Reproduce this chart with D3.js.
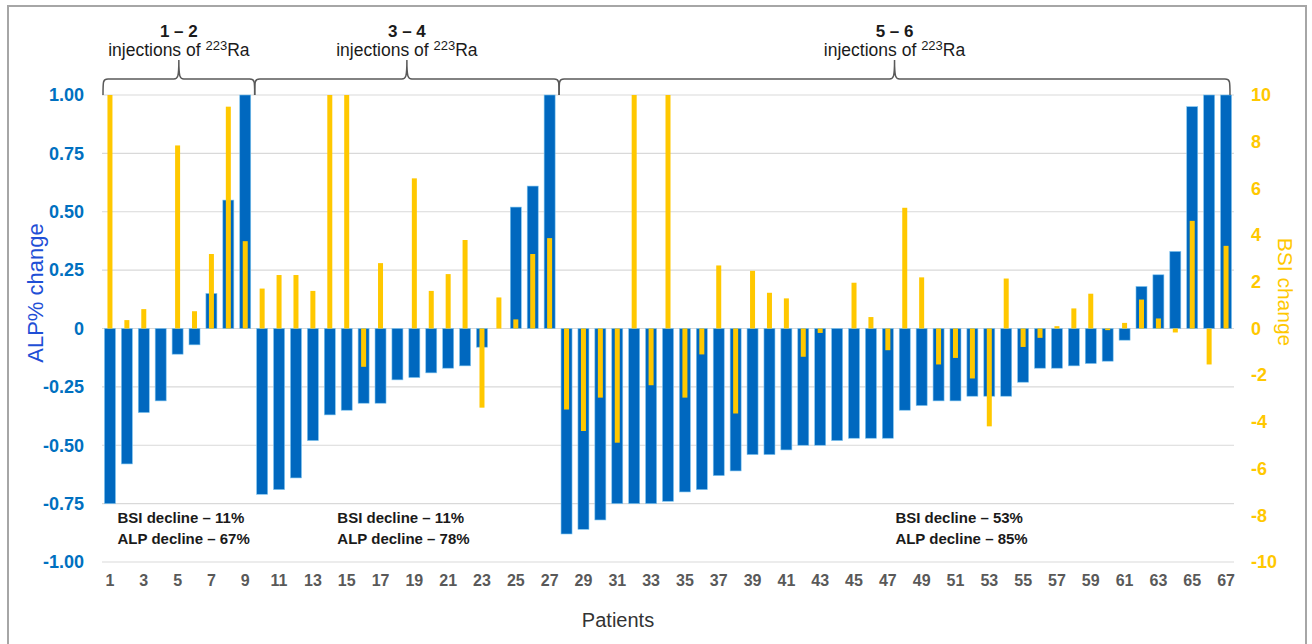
<!DOCTYPE html>
<html>
<head>
<meta charset="utf-8">
<script src="https://cdn.jsdelivr.net/npm/d3@7"></script>
<style>
  body { margin: 0; background: #fff; }
  svg { display: block; font-family: "Liberation Sans", Arial, sans-serif; }
</style>
</head>
<body>
<svg id="chart" width="1312" height="644"></svg>
<script>
// --- Data ---------------------------------------
const patients = d3.range(1, 68);

// ALP% change per patient (left axis)
const alpChange = [
  -0.75, -0.58, -0.36, -0.31, -0.11, -0.07, 0.15, 0.55, 1.00,
  -0.71, -0.69, -0.64, -0.48, -0.37, -0.35, -0.32, -0.32, -0.22, -0.21,
  -0.19, -0.17, -0.16, -0.08, 0, 0.52, 0.61, 1.00,
  -0.88, -0.86, -0.82, -0.75, -0.75, -0.75, -0.74, -0.70, -0.69, -0.63,
  -0.61, -0.54, -0.54, -0.52, -0.50, -0.50, -0.48, -0.47, -0.47, -0.47,
  -0.35, -0.33, -0.31, -0.31, -0.29, -0.29, -0.29, -0.23, -0.17, -0.17,
  -0.16, -0.15, -0.14, -0.05, 0.18, 0.23, 0.33, 0.95, 1.00, 1.00
];

// BSI change per patient (right axis)
const bsiChange = [
  10, 0.36, 0.83, 0, 7.84, 0.74, 3.19, 9.5, 3.74,
  1.71, 2.29, 2.29, 1.61, 10, 10, -1.64, 2.8, 0, 6.43,
  1.61, 2.33, 3.79, -3.39, 1.33, 0.39, 3.19, 3.87,
  -3.47, -4.39, -2.96, -4.89, 10, -2.43, 10, -2.96, -1.11, 2.7,
  -3.64, 2.47, 1.53, 1.29, -1.21, -0.19, 0, 1.96, 0.49, -0.93,
  5.17, 2.19, -1.54, -1.26, -2.14, -4.19, 2.14, -0.79, -0.4, 0.1,
  0.86, 1.49, -0.07, 0.24, 1.24, 0.43, -0.17, 4.61, -1.54, 3.54
];

const alpTicks = [1, 0.75, 0.5, 0.25, 0, -0.25, -0.5, -0.75, -1];
const alpTickLabels = ["1.00", "0.75", "0.50", "0.25", "0", "-0.25", "-0.50", "-0.75", "-1.00"];
const bsiTicks = [10, 8, 6, 4, 2, 0, -2, -4, -6, -8, -10];

// Injection groups: first and last patient of each bracket
const groupRanges = [[1, 9], [10, 27], [28, 67]];
const groupLabels = ["1 \u2013 2", "3 \u2013 4", "5 \u2013 6"];
const bsiDecline = ["BSI decline \u2013 11%", "BSI decline \u2013 11%", "BSI decline \u2013 53%"];
const alpDecline = ["ALP decline \u2013 67%", "ALP decline \u2013 78%", "ALP decline \u2013 85%"];
const declineAt = [1, 14, 47]; // patient the decline text starts near

// --- Setup ----------------------------------------
const svg = d3.select("#chart");
const blue = "#0068bf";
const yellow = "#ffc800";

const x = d3.scaleBand()
  .domain(patients)
  .range([101.5, 1234.5]);

const yAlp = d3.scaleLinear().domain([-1, 1]).range([562, 95]);
const yBsi = d3.scaleLinear().domain([-10, 10]).range([562, 95]);

// outer frame
svg.append("rect")
  .attr("x", 8).attr("y", 6)
  .attr("width", 1298).attr("height", 650)
  .attr("fill", "none")
  .attr("stroke", "#a6a6a6")
  .attr("stroke-width", 2);

// gridlines
svg.append("g")
  .selectAll("line")
  .data(alpTicks)
  .join("line")
  .attr("x1", 102).attr("x2", 1234)
  .attr("y1", d => yAlp(d)).attr("y2", d => yAlp(d))
  .attr("stroke", "#d9d9d9")
  .attr("stroke-width", 1.2);

// left axis labels
const leftAxis = svg.append("g")
  .attr("transform", "translate(84,0)")
  .call(d3.axisLeft(yAlp).tickValues(alpTicks)
    .tickFormat((d, i) => alpTickLabels[i]).tickSize(0).tickPadding(0));
leftAxis.select(".domain").remove();
leftAxis.selectAll("text")
  .attr("fill", "#0070c0")
  .style("font-size", "18px")
  .style("font-weight", "bold")
  .style("font-family", "Liberation Sans, Arial, sans-serif");

// right axis labels (plain hyphen for negatives, like the original)
const rightAxis = svg.append("g")
  .attr("transform", "translate(1251,0)")
  .call(d3.axisRight(yBsi).tickValues(bsiTicks)
    .tickFormat(d => String(d)).tickSize(0).tickPadding(0));
rightAxis.select(".domain").remove();
rightAxis.selectAll("text")
  .attr("fill", yellow)
  .style("font-size", "18px")
  .style("font-weight", "bold")
  .style("font-family", "Liberation Sans, Arial, sans-serif");

// bottom axis labels (odd patients)
const bottomAxis = svg.append("g")
  .attr("transform", "translate(0,574)")
  .call(d3.axisBottom(x).tickValues(patients.filter(p => p % 2 === 1))
    .tickSize(0).tickPadding(0));
bottomAxis.select(".domain").remove();
bottomAxis.selectAll("text")
  .attr("fill", "#595959")
  .attr("dy", "0.75em")
  .style("font-size", "16px")
  .style("font-weight", "bold")
  .style("font-family", "Liberation Sans, Arial, sans-serif");

// axis titles
svg.append("text")
  .attr("transform", "translate(43,293)rotate(-90)")
  .attr("text-anchor", "middle")
  .attr("fill", "#1f4fd6")
  .style("font-size", "22px")
  .text("ALP% change");

svg.append("text")
  .attr("transform", "translate(1278,292)rotate(90)")
  .attr("text-anchor", "middle")
  .attr("fill", yellow)
  .style("font-size", "21px")
  .text("BSI change");

svg.append("text")
  .attr("x", 618).attr("y", 627)
  .attr("text-anchor", "middle")
  .attr("fill", "#333")
  .style("font-size", "20px")
  .text("Patients");

// --- Bars ----------------------------------------
const blueW = 11;
const yellowW = 5;

svg.append("g")
  .selectAll("rect")
  .data(alpChange)
  .join("rect")
  .attr("x", (d, i) => x(patients[i]) + x.bandwidth() / 2 - blueW / 2)
  .attr("width", blueW)
  .attr("y", d => yAlp(Math.max(d, 0)))
  .attr("height", d => Math.abs(yAlp(d) - yAlp(0)))
  .attr("fill", blue)
  .attr("stroke", "#7cc4ef")
  .attr("stroke-width", 0.6);

svg.append("g")
  .selectAll("rect")
  .data(bsiChange)
  .join("rect")
  .attr("x", (d, i) => x(patients[i]) + x.bandwidth() / 2 - yellowW / 2)
  .attr("width", yellowW)
  .attr("y", d => yBsi(Math.max(d, 0)))
  .attr("height", d => Math.abs(yBsi(d) - yBsi(0)))
  .attr("fill", yellow);

// --- Brackets and group labels --------------------
function bracePath(x0, x1, yBottom, yLine, yTop) {
  const xc = (x0 + x1) / 2;
  const r = 5;
  return "M" + x0 + "," + yBottom +
    " C" + x0 + "," + (yLine + 2) + " " + x0 + "," + yLine + " " + (x0 + r) + "," + yLine +
    " L" + (xc - r) + "," + yLine +
    " C" + (xc - 1) + "," + yLine + " " + xc + "," + (yLine - 2) + " " + xc + "," + yTop +
    " C" + xc + "," + (yLine - 2) + " " + (xc + 1) + "," + yLine + " " + (xc + r) + "," + yLine +
    " L" + (x1 - r) + "," + yLine +
    " C" + x1 + "," + yLine + " " + x1 + "," + (yLine + 2) + " " + x1 + "," + yBottom;
}

groupRanges.forEach((g, i) => {
  const x0 = i === 0 ? 103 : x(g[0]) + 1;
  const x1 = i === 2 ? 1230 : x(g[1]) + x.bandwidth() + 1;
  const xc = (x0 + x1) / 2;

  svg.append("path")
    .attr("d", bracePath(x0, x1, 95, 79, 60))
    .attr("fill", "none")
    .attr("stroke", "#595959")
    .attr("stroke-width", 1.5);

  svg.append("text")
    .attr("x", xc).attr("y", 37)
    .attr("text-anchor", "middle")
    .attr("fill", "#1a1a1a")
    .style("font-size", "17px")
    .style("font-weight", "bold")
    .text(groupLabels[i]);

  const t = svg.append("text")
    .attr("x", xc).attr("y", 56)
    .attr("text-anchor", "middle")
    .attr("fill", "#1a1a1a")
    .style("font-size", "17.5px");
  t.append("tspan").text("injections of ");
  t.append("tspan").attr("dy", -6).style("font-size", "13px").text("223");
  t.append("tspan").attr("dy", 6).text("Ra");

  const tx = x(declineAt[i]) + 16;
  svg.append("text")
    .attr("x", tx).attr("y", 523)
    .attr("fill", "#1a1a1a")
    .style("font-size", "15px")
    .style("font-weight", "bold")
    .text(bsiDecline[i]);
  svg.append("text")
    .attr("x", tx).attr("y", 544)
    .attr("fill", "#1a1a1a")
    .style("font-size", "15px")
    .style("font-weight", "bold")
    .text(alpDecline[i]);
});
</script>
</body>
</html>
